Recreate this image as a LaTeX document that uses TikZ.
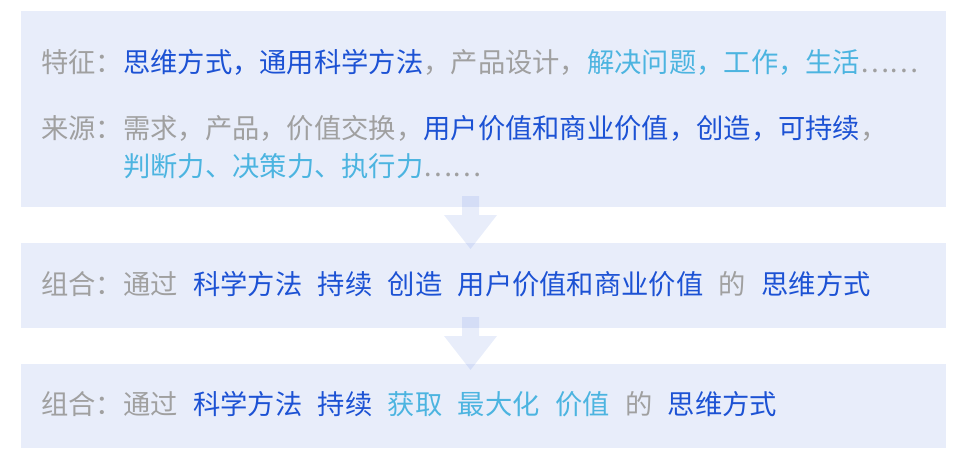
\documentclass[tikz,border=0pt]{standalone}
\usepackage{fontspec}
\setmainfont{Noto Sans CJK SC}
\usepackage{xcolor}
\usetikzlibrary{positioning}
\definecolor{tgray}{RGB}{160,160,160}
\definecolor{tdark}{RGB}{28,82,212}
\definecolor{tlight}{RGB}{76,180,224}
\definecolor{panel}{RGB}{30,80,210}
\newcommand{\wgap}{\hspace{15.4pt}}

\begin{document}
\begin{tikzpicture}[x=1pt,y=-1pt,
  panelbox/.style={fill=panel, fill opacity=0.1},
  flow/.style={fill=panel, fill opacity=0.1},
  line/.style={anchor=west, inner sep=0pt, font=\fontsize{27.3}{30}\selectfont}]

\useasboundingbox (0,0) rectangle (960,460);

% boxes
{
\fill[panelbox] (21,11) rectangle (946,207);
\fill[panelbox] (21,243) rectangle (946,328);
\fill[panelbox] (21,364) rectangle (946,448);
}

% arrows
{
\fill[flow] (462,196)--++(17,0)--++(0,19)--++(18,0)--(470.5,249)--(444,215)--++(18,0)--cycle;
\fill[flow] (462,317)--++(17,0)--++(0,19)--++(18,0)--(470.5,370)--(444,336)--++(18,0)--cycle;
}

% nodes
{

\node[line] (feat) at (41,62) {\textcolor{tgray}{特征：}\textcolor{tdark}{思维方式，通用科学方法}\textcolor{tgray}{，产品设计，}\textcolor{tlight}{解决问题，工作，生活}\textcolor{tgray}{……}};

\node[line] (src) at (41,128) {\textcolor{tgray}{来源：需求，产品，价值交换，}\textcolor{tdark}{用户价值和商业价值，创造，可持续}\textcolor{tgray}{，}};

\node[line] (srcb) at (123,166) {\textcolor{tlight}{判断力、决策力、执行力}\textcolor{tgray}{……}};

\node[line] (combA) at (41,284) {\textcolor{tgray}{组合：通过}\wgap\textcolor{tdark}{科学方法}\wgap\textcolor{tdark}{持续}\wgap\textcolor{tdark}{创造}\wgap\textcolor{tdark}{用户价值和商业价值}\wgap\textcolor{tgray}{的}\wgap\textcolor{tdark}{思维方式}};

\node[line] (combB) at (41,404) {\textcolor{tgray}{组合：通过}\wgap\textcolor{tdark}{科学方法}\wgap\textcolor{tdark}{持续}\wgap\textcolor{tlight}{获取}\wgap\textcolor{tlight}{最大化}\wgap\textcolor{tlight}{价值}\wgap\textcolor{tgray}{的}\wgap\textcolor{tdark}{思维方式}};
}

\end{tikzpicture}
\end{document}
